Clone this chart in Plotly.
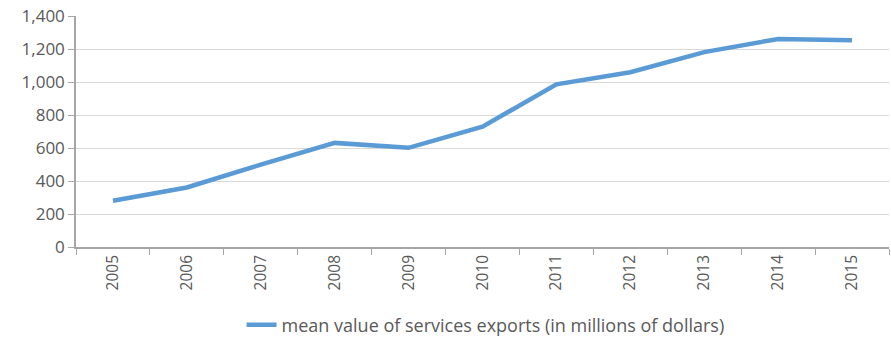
import plotly.graph_objects as go

years = ["2005", "2006", "2007", "2008", "2009", "2010", "2011", "2012", "2013", "2014", "2015"]
values = [280, 361, 499, 631, 601, 729, 986, 1059, 1181, 1261, 1253]
series_name = "mean value of services exports (in millions of dollars)"

txt = "#595959"
fig = go.Figure()
fig.add_trace(go.Scatter(x=years, y=values, mode="lines", name=series_name,
                         line=dict(color="#5B9BD5", width=4.5)))

fig.update_layout(
    width=891, height=338,
    margin=dict(l=76, r=2, t=16, b=91, autoexpand=False),
    paper_bgcolor="white", plot_bgcolor="white",
    font=dict(family="Open Sans", size=16, color=txt),
    showlegend=True,
    legend=dict(orientation="h", x=0.545, xanchor="center", xref="container",
                y=0.038, yanchor="middle", yref="container",
                font=dict(size=18, color=txt)),
    xaxis=dict(type="category", tickangle=-90, showgrid=False, automargin=False,
               showline=True, linecolor="#A6A6A6", linewidth=1.5,
               ticks="outside", tickson="boundaries", ticklen=6, tickcolor="#A6A6A6",
               tickfont=dict(size=15.5, color=txt), range=[-0.5, 10.5]),
    yaxis=dict(range=[0, 1400], dtick=200, tickformat=",d", automargin=False,
               showgrid=True, gridcolor="#D9D9D9", gridwidth=1,
               showline=True, linecolor="#A6A6A6", linewidth=1.5,
               ticks="outside", ticklen=6, tickcolor="#A6A6A6",
               tickfont=dict(size=17, color=txt), zeroline=False),
)

fig.write_html("out.html")
